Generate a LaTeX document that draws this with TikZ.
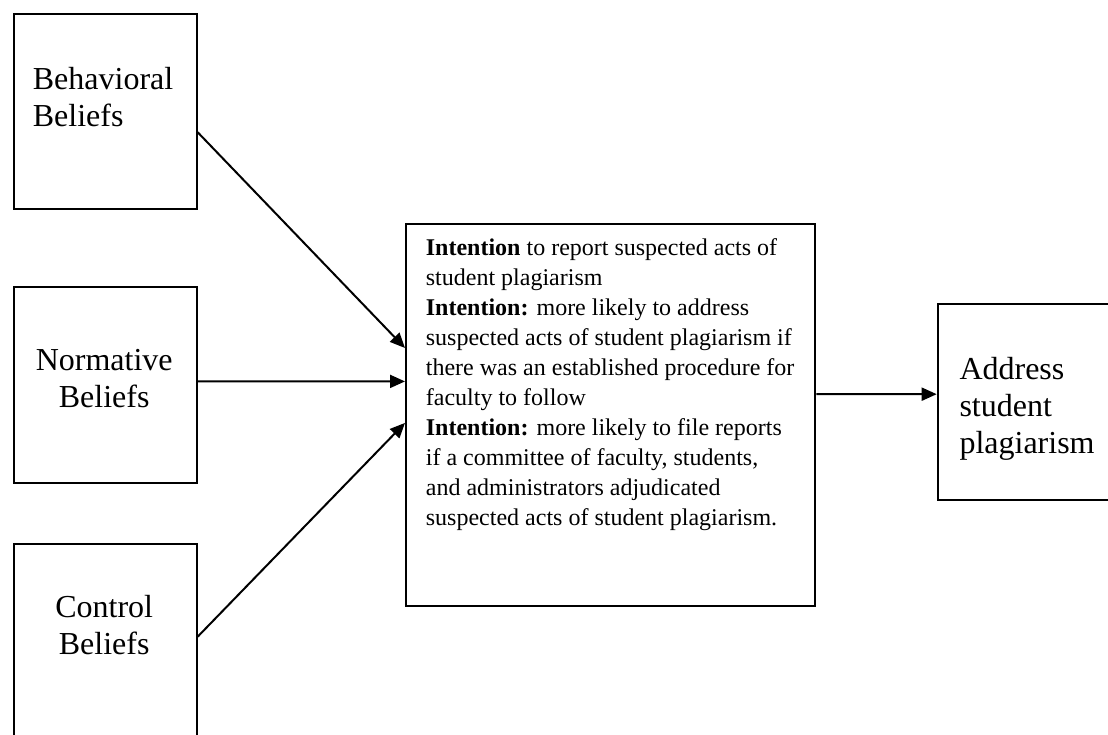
\documentclass[tikz,border=0pt]{standalone}
\usepackage{fontspec}
\setmainfont{Liberation Serif}
\usetikzlibrary{arrows.meta,calc}
\tikzset{
  box/.style={draw, line width=2pt, anchor=north west, inner sep=0pt},
  big/.style={font=\fontsize{32}{36.8}\selectfont, inner sep=0pt},
  small/.style={font=\fontsize{24}{30}\selectfont, inner sep=0pt, align=left},
  arr/.style={-{Triangle[length=15pt,width=13pt]}, line width=2pt},
}
\begin{document}
\begin{tikzpicture}[x=1pt, y=-1pt]
  \useasboundingbox (0,0) rectangle (1108,734);
  \clip (0,0) rectangle (1108,734);

  % the five boxes
  \node[box, minimum width=183pt, minimum height=195.3pt] (behav) at (12.7,12.7) {};
  \node[box, minimum width=183pt, minimum height=195.4pt] (norm) at (12.7,286.3) {};
  \node[box, minimum width=183pt, minimum height=195pt] (ctrl) at (12.7,543.3) {};
  \node[box, minimum width=409.3pt, minimum height=382.3pt] (intent) at (405,222.7) {};
  \node[box, minimum width=180pt, minimum height=196pt] (addr) at (936.7,303.3) {};

  % texts (base = baseline of the last line)
  \node[big, align=left, anchor=base west] (behavtxt) at (32.7,126.7) {Behavioral\\Beliefs};
  \node[big, align=center, anchor=base] (normtxt) at (104.2,407.7) {Normative\\Beliefs};
  \node[big, align=center, anchor=base] (ctrltxt) at (104.2,654.3) {Control\\Beliefs};
  \node[small, anchor=base west] (intenttxt) at (425.7,525) {%
    \textbf{Intention} to report suspected acts of\\
    student plagiarism\\
    \textbf{Intention:} more likely to address\\
    suspected acts of student plagiarism if\\
    there was an established procedure for\\
    faculty to follow\\
    \textbf{Intention:} more likely to file reports\\
    if a committee of faculty, students,\\
    and administrators adjudicated\\
    suspected acts of student plagiarism.};
  \node[big, align=left, anchor=base west] (addrtxt) at (959.3,453.3) {Address\\student\\plagiarism};

  % arrows
  \foreach \src/\a/\b in {behav/0.606/0.326, norm/0.481/0.413, ctrl/0.474/0.521}
    \draw[arr] ($(\src.north east)!\a!(\src.south east)$) -- ($(intent.north west)!\b!(intent.south west)$);
  \draw[arr] ($(intent.north east)!0.446!(intent.south east)$) -- ($(addr.north west)!0.459!(addr.south west)$);
\end{tikzpicture}
\end{document}
